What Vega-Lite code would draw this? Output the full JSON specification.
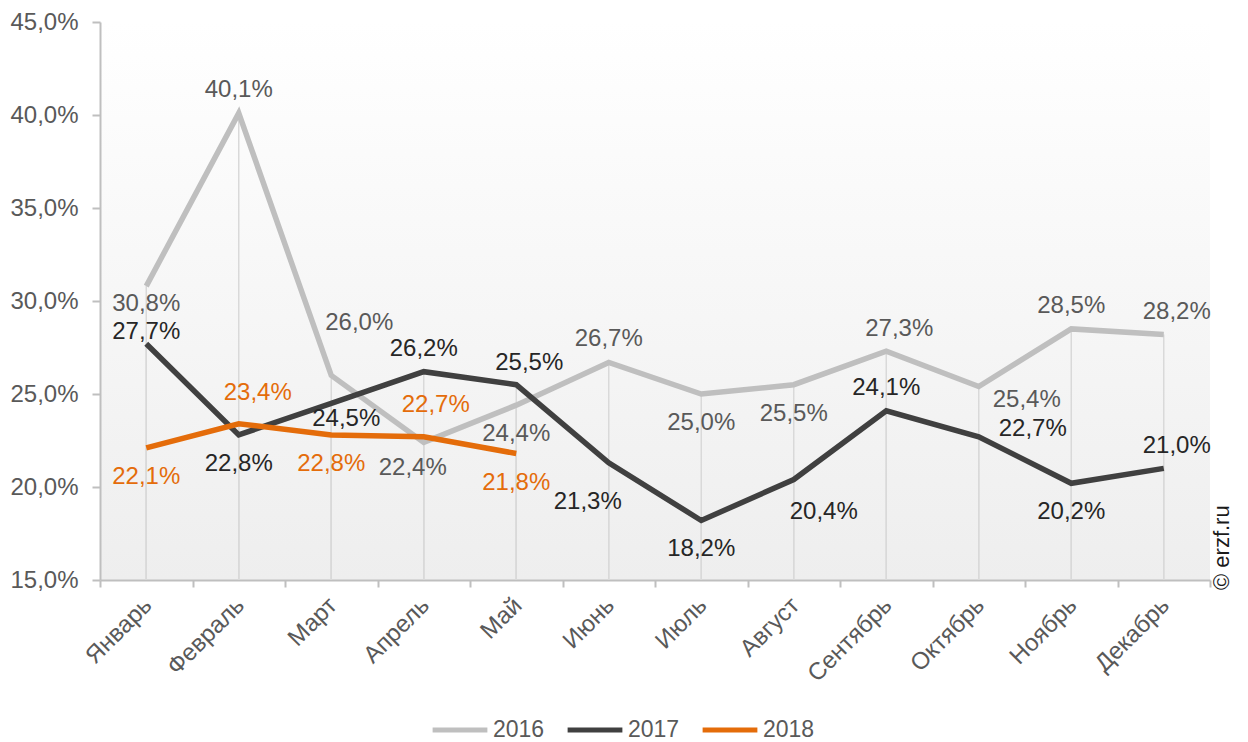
{
  "$schema": "https://vega.github.io/schema/vega-lite/v6.json",
  "width": 1110,
  "height": 558,
  "autosize": {"type": "none"},
  "padding": {"left": 100, "top": 22, "right": 38, "bottom": 162},
  "background": "white",
  "config": {
    "font": "Liberation Sans",
    "view": {"stroke": null, "fill": {"gradient": "linear", "x1": 0, "y1": 0, "x2": 0, "y2": 1, "stops": [{"offset": 0, "color": "#ffffff"}, {"offset": 1, "color": "#eeeeee"}]}},
    "text": {"fontSize": 24, "font": "Liberation Sans"}
  },
  "data": {"values": [
    {"month": "Январь", "year": "2016", "value": 30.8},
    {"month": "Февраль", "year": "2016", "value": 40.1},
    {"month": "Март", "year": "2016", "value": 26.0},
    {"month": "Апрель", "year": "2016", "value": 22.4},
    {"month": "Май", "year": "2016", "value": 24.4},
    {"month": "Июнь", "year": "2016", "value": 26.7},
    {"month": "Июль", "year": "2016", "value": 25.0},
    {"month": "Август", "year": "2016", "value": 25.5},
    {"month": "Сентябрь", "year": "2016", "value": 27.3},
    {"month": "Октябрь", "year": "2016", "value": 25.4},
    {"month": "Ноябрь", "year": "2016", "value": 28.5},
    {"month": "Декабрь", "year": "2016", "value": 28.2},
    {"month": "Январь", "year": "2017", "value": 27.7},
    {"month": "Февраль", "year": "2017", "value": 22.8},
    {"month": "Март", "year": "2017", "value": 24.5},
    {"month": "Апрель", "year": "2017", "value": 26.2},
    {"month": "Май", "year": "2017", "value": 25.5},
    {"month": "Июнь", "year": "2017", "value": 21.3},
    {"month": "Июль", "year": "2017", "value": 18.2},
    {"month": "Август", "year": "2017", "value": 20.4},
    {"month": "Сентябрь", "year": "2017", "value": 24.1},
    {"month": "Октябрь", "year": "2017", "value": 22.7},
    {"month": "Ноябрь", "year": "2017", "value": 20.2},
    {"month": "Декабрь", "year": "2017", "value": 21.0},
    {"month": "Январь", "year": "2018", "value": 22.1},
    {"month": "Февраль", "year": "2018", "value": 23.4},
    {"month": "Март", "year": "2018", "value": 22.8},
    {"month": "Апрель", "year": "2018", "value": 22.7},
    {"month": "Май", "year": "2018", "value": 21.8}
  ]},
  "transform": [{"calculate": "replace(format(datum.value,'.1f'),'.',',')+'%'", "as": "label"}],
  "encoding": {
    "x": {
      "field": "month", "type": "nominal",
      "sort": ["Январь","Февраль","Март","Апрель","Май","Июнь","Июль","Август","Сентябрь","Октябрь","Ноябрь","Декабрь"],
      "scale": {"paddingInner": 0, "paddingOuter": 0},
      "axis": {"title": null, "labelAngle": -45, "labelFontSize": 24, "labelColor": "#595959", "domainColor": "#bfbfbf", "domainWidth": 2, "tickColor": "#bfbfbf", "tickWidth": 2, "tickSize": 7, "tickBand": "extent", "labelPadding": 6, "labelOffset": -7}
    },
    "y": {
      "field": "value", "type": "quantitative",
      "scale": {"domain": [15, 45], "nice": false, "zero": false},
      "axis": {"title": null, "values": [15,20,25,30,35,40,45], "labelExpr": "replace(format(datum.value,'.1f'),'.',',')+'%'", "labelFontSize": 24, "labelColor": "#595959", "domainColor": "#bfbfbf", "domainWidth": 2, "tickColor": "#bfbfbf", "tickWidth": 2, "tickSize": 8, "grid": false, "labelPadding": 14}
    }
  },
  "layer": [
    {"mark": {"type": "rule", "color": "#d9d9d9", "strokeWidth": 1.5}, "encoding": {"y2": {"datum": 15}}},
    {
      "mark": {"type": "line", "strokeWidth": 5.5},
      "encoding": {
        "order": {"value": null},
        "color": {"field": "year", "type": "nominal",
          "scale": {"domain": ["2016","2017","2018"], "range": ["#bfbfbf","#404040","#e46c0a"]},
          "legend": {"orient": "none", "legendX": 330, "legendY": 678, "title": null, "direction": "horizontal", "symbolType": "stroke", "symbolStrokeWidth": 5, "symbolSize": 3000, "labelFontSize": 23, "labelColor": "#595959", "labelOffset": 3, "columnPadding": 12}}
      }
    },
    {
      "encoding": {
        "text": {"field": "label", "type": "nominal"},
        "color": {"condition": [{"test": "datum.year==='2018'", "value": "#e46c0a"}, {"test": "datum.year==='2017'", "value": "#262626"}], "value": "#595959"}
      },
      "layer": [
        {"transform": [{"filter": "indexof(['2016|Февраль','2016|Июнь','2016|Ноябрь','2017|Апрель','2017|Сентябрь'], datum.year+'|'+datum.month) >= 0"}], "mark": {"type": "text", "dy": -23}},
        {"transform": [{"filter": "indexof(['2016|Сентябрь','2016|Декабрь','2017|Май','2017|Декабрь'], datum.year+'|'+datum.month) >= 0"}], "mark": {"type": "text", "dx": 13, "dy": -22}},
        {"transform": [{"filter": "indexof(['2016|Май','2016|Июль','2016|Август','2017|Февраль','2017|Июль','2017|Ноябрь','2018|Январь','2018|Март','2018|Май'], datum.year+'|'+datum.month) >= 0"}], "mark": {"type": "text", "dy": 29}},
        {"transform": [{"filter": "datum.year==='2016' && datum.month==='Апрель'"}], "mark": {"type": "text", "dx": -11, "dy": 26}},
        {"transform": [{"filter": "datum.year==='2016' && datum.month==='Январь'"}], "mark": {"type": "text", "dy": 18}},
        {"transform": [{"filter": "datum.year==='2017' && datum.month==='Январь'"}], "mark": {"type": "text", "dy": -12}},
        {"transform": [{"filter": "datum.year==='2016' && datum.month==='Март'"}], "mark": {"type": "text", "dx": 28, "dy": -52}},
        {"transform": [{"filter": "datum.year==='2017' && datum.month==='Март'"}], "mark": {"type": "text", "dx": 15, "dy": 16}},
        {"transform": [{"filter": "datum.year==='2018' && datum.month==='Апрель'"}], "mark": {"type": "text", "dx": 12, "dy": -32}},
        {"transform": [{"filter": "datum.year==='2017' && datum.month==='Июнь'"}], "mark": {"type": "text", "dx": -21, "dy": 39}},
        {"transform": [{"filter": "datum.year==='2017' && datum.month==='Август'"}], "mark": {"type": "text", "dx": 30, "dy": 32}},
        {"transform": [{"filter": "datum.year==='2016' && datum.month==='Октябрь'"}], "mark": {"type": "text", "dx": 48, "dy": 13}},
        {"transform": [{"filter": "datum.year==='2017' && datum.month==='Октябрь'"}], "mark": {"type": "text", "dx": 54, "dy": -8}},
        {"transform": [{"filter": "datum.year==='2018' && datum.month==='Февраль'"}], "mark": {"type": "text", "dx": 19, "dy": -31}}
      ]
    },
    {
      "transform": [{"filter": "datum.year==='2016' && datum.month==='Декабрь'"}],
      "mark": {"type": "text", "angle": 270, "align": "left", "baseline": "middle", "fontSize": 22, "color": "#1a1a1a", "dx": -10, "dy": 58},
      "encoding": {
        "y": {"datum": 15},
        "text": {"value": "© erzf.ru"}
      }
    }
  ]
}
